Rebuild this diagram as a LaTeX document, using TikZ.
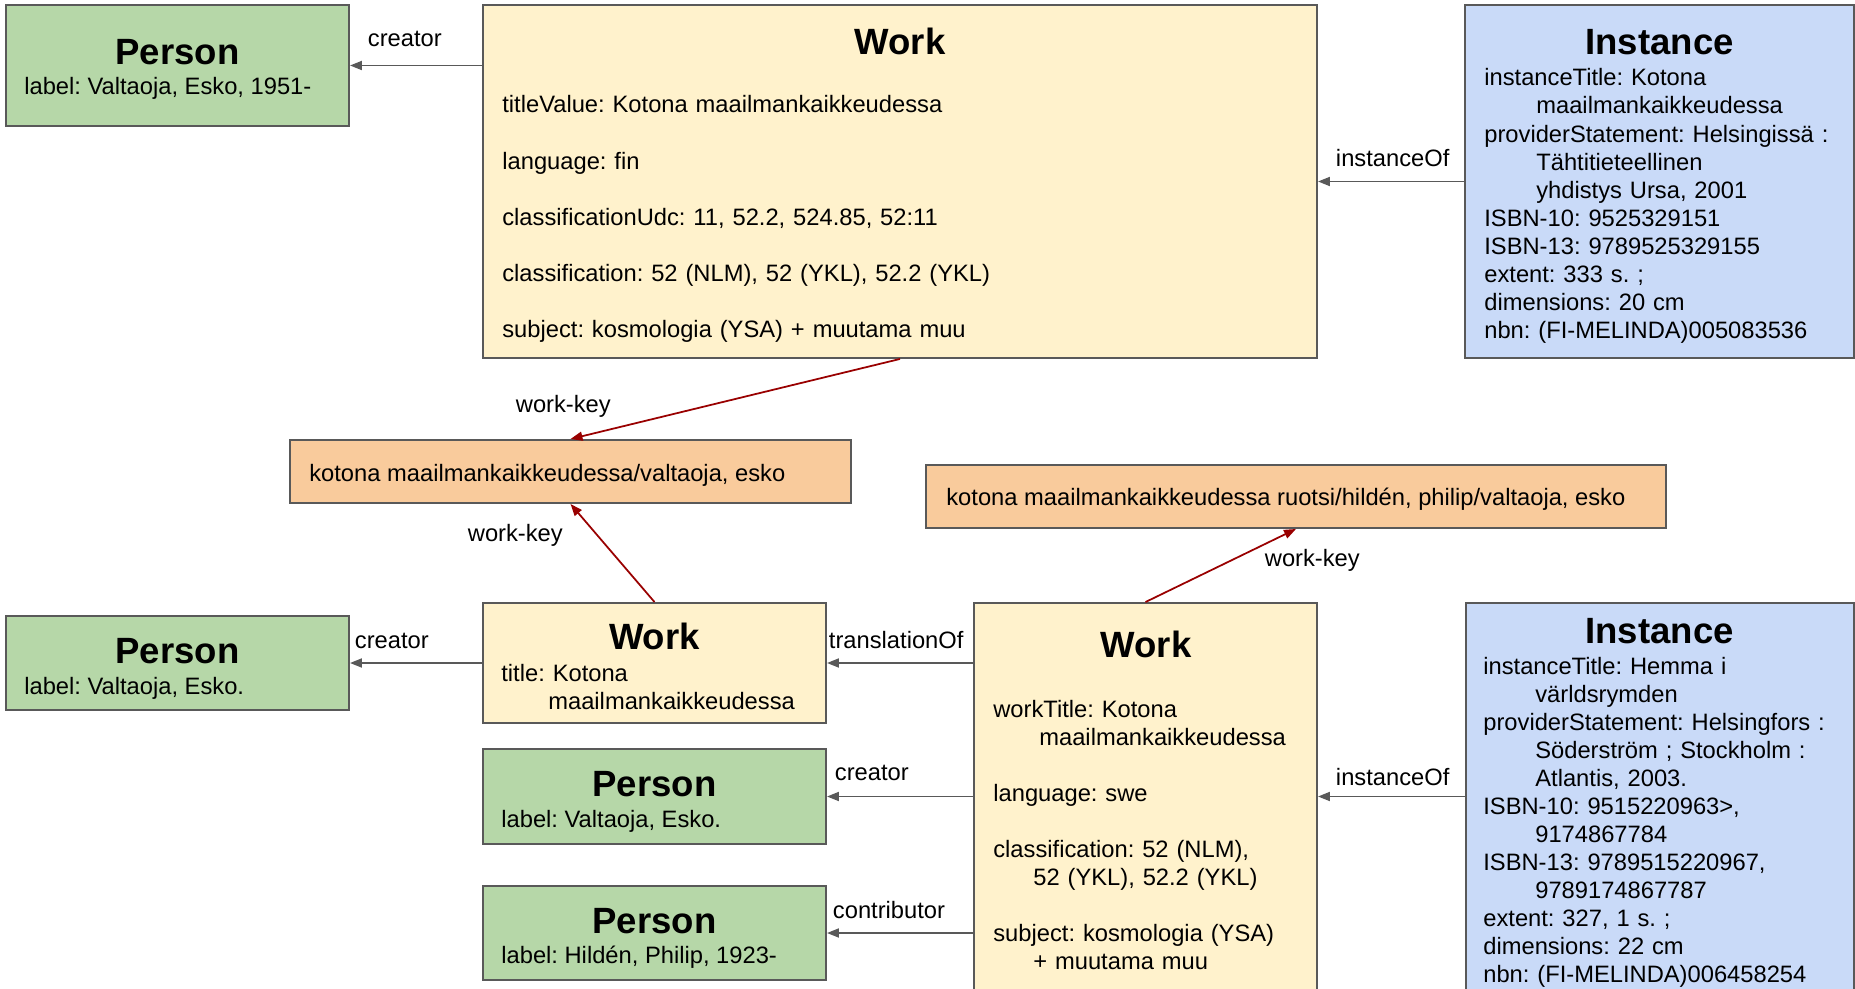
\documentclass[tikz,border=0pt]{standalone}
\usepackage{fontspec}
\setmainfont{Liberation Sans}
\frenchspacing
\usetikzlibrary{arrows.meta,fit}
\definecolor{persongreen}{HTML}{B6D7A8}
\definecolor{workyellow}{HTML}{FFF2CC}
\definecolor{instblue}{HTML}{C9DAF8}
\definecolor{keyorange}{HTML}{F9CB9C}
\definecolor{edgegray}{HTML}{595959}
\definecolor{keyred}{HTML}{990000}
\tikzset{
  box/.style={draw=edgegray,line width=1.1pt,inner sep=0pt},
  person/.style={box,fill=persongreen},
  work/.style={box,fill=workyellow},
  inst/.style={box,fill=instblue},
  key/.style={box,fill=keyorange},
  ttl/.style={font=\fontsize{20.8pt}{24pt}\selectfont\bfseries,anchor=base,inner sep=0pt},
  txt/.style={font=\fontsize{13.5pt}{15.94pt}\selectfont,anchor=base west,inner sep=0pt},
  body/.style={txt,text width=12cm,align=left},
  rel/.style={draw=edgegray,line width=1.1pt,-{Triangle[length=0.24cm,width=0.18cm]}},
  wkey/.style={draw=keyred,line width=1pt,-{Triangle[length=0.24cm,width=0.18cm]}},
}
\newcommand{\ind}[1]{\hspace*{#1}}
\begin{document}
\begin{tikzpicture}[x=0.02cm,y=-0.02cm]
\clip(0,0)rectangle(1855,989);
%boxes
\node[person,fit={(6,5)(349,126)}](p1){};
\node[work,fit={(483,5)(1317,358)}](w1){};
\node[inst,fit={(1465,5)(1854,358)}](i1){};
\node[key,fit={(290,440)(851,503)}](k1){};
\node[key,fit={(926,465)(1666,528)}](k2){};
\node[person,fit={(6,616)(349,710)}](p2){};
\node[work,fit={(483,603)(826,723)}](w2){};
\node[person,fit={(483,749)(826,844)}](p3){};
\node[person,fit={(483,886)(826,980)}](p4){};
\node[work,fit={(974,603)(1317,1000)}](w3){};
\node[inst,fit={(1466,603)(1854,1000)}](i2){};
%top row
\node[ttl](p1t)at(177.5,65){Person};
\node[txt](p1l)at(24,95){label: Valtaoja, Esko, 1951-};
\node[ttl](w1t)at(900,55){Work};
\node[body](w1l)at(502,113){titleValue: Kotona maailmankaikkeudessa\\[15.94pt]
  language: fin\\[15.94pt]
  classificationUdc: 11, 52.2, 524.85, 52:11\\[15.94pt]
  classification: 52 (NLM), 52 (YKL), 52.2 (YKL)\\[15.94pt]
  subject: kosmologia (YSA) + muutama muu};
\node[ttl](i1t)at(1659.5,55){Instance};
\node[body](i1l)at(1484,86){instanceTitle: Kotona\\
  \ind{1.04cm}maailmankaikkeudessa\\
  providerStatement: Helsingissä :\\
  \ind{1.04cm}Tähtitieteellinen\\
  \ind{1.04cm}yhdistys Ursa, 2001\\
  ISBN-10: 9525329151\\
  ISBN-13: 9789525329155\\
  extent: 333 s. ;\\
  dimensions: 20 cm\\
  nbn: (FI-MELINDA)005083536};
%keys
\node[txt](k1l)at(309,481){kotona maailmankaikkeudessa/valtaoja, esko};
\node[txt](k2l)at(946,505){kotona maailmankaikkeudessa ruotsi/hildén, philip/valtaoja, esko};
%bottom row
\node[ttl](p2t)at(177.5,663){Person};
\node[txt](p2l)at(24,694){label: Valtaoja, Esko.};
\node[ttl](w2t)at(654.5,649){Work};
\node[body](w2l)at(501,681){title: Kotona\\\ind{0.94cm}maailmankaikkeudessa};
\node[ttl](p3t)at(654.5,796){Person};
\node[txt](p3l)at(501,827){label: Valtaoja, Esko.};
\node[ttl](p4t)at(654.5,933){Person};
\node[txt](p4l)at(501,963){label: Hildén, Philip, 1923-};
\node[ttl](w3t)at(1146,657){Work};
\node[body](w3l)at(993,717){workTitle: Kotona\\
  \ind{0.92cm}maailmankaikkeudessa\\[15.94pt]
  language: swe\\[15.94pt]
  classification: 52 (NLM),\\
  \ind{0.8cm}52 (YKL), 52.2 (YKL)\\[15.94pt]
  subject: kosmologia (YSA)\\
  \ind{0.8cm}+ muutama muu};
\node[ttl](i2t)at(1659.5,643){Instance};
\node[body](i2l)at(1483,674){instanceTitle: Hemma i\\
  \ind{1.04cm}världsrymden\\
  providerStatement: Helsingfors :\\
  \ind{1.04cm}Söderström ; Stockholm :\\
  \ind{1.04cm}Atlantis, 2003.\\
  ISBN-10: 9515220963>,\\
  \ind{1.04cm}9174867784\\
  ISBN-13: 9789515220967,\\
  \ind{1.04cm}9789174867787\\
  extent: 327, 1 s. ;\\
  dimensions: 22 cm\\
  nbn: (FI-MELINDA)006458254};
%relations
\draw[rel](w1.west|-p1)--(p1)node[txt](c1)at(367,47){creator};
\draw[rel](i1)--(w1)node[txt](io1)at(1335,167){instanceOf};
\draw[wkey](w1.south)--(k1.north)node[txt](wk1)at(515,413){work-key};
\draw[wkey](w2.north)--(k1.south)node[txt](wk2)at(467,541){work-key};
\draw[wkey](w3.north)--(k2.south)node[txt](wk3)at(1264,566){work-key};
\draw[rel](w2)--(p2)node[txt](c2)at(354,648){creator};
\draw[rel](w3.west|-w2)--(w2)node[txt](tr)at(828,648){translationOf};
\draw[rel](w3.west|-p3)--(p3)node[txt](c3)at(834,780){creator};
\draw[rel](w3.west|-p4)--(p4)node[txt](ct)at(832,918){contributor};
\draw[rel](i2.west|-p3)--(w3.east|-p3)node[txt](io2)at(1335,785){instanceOf};
\end{tikzpicture}
\end{document}
